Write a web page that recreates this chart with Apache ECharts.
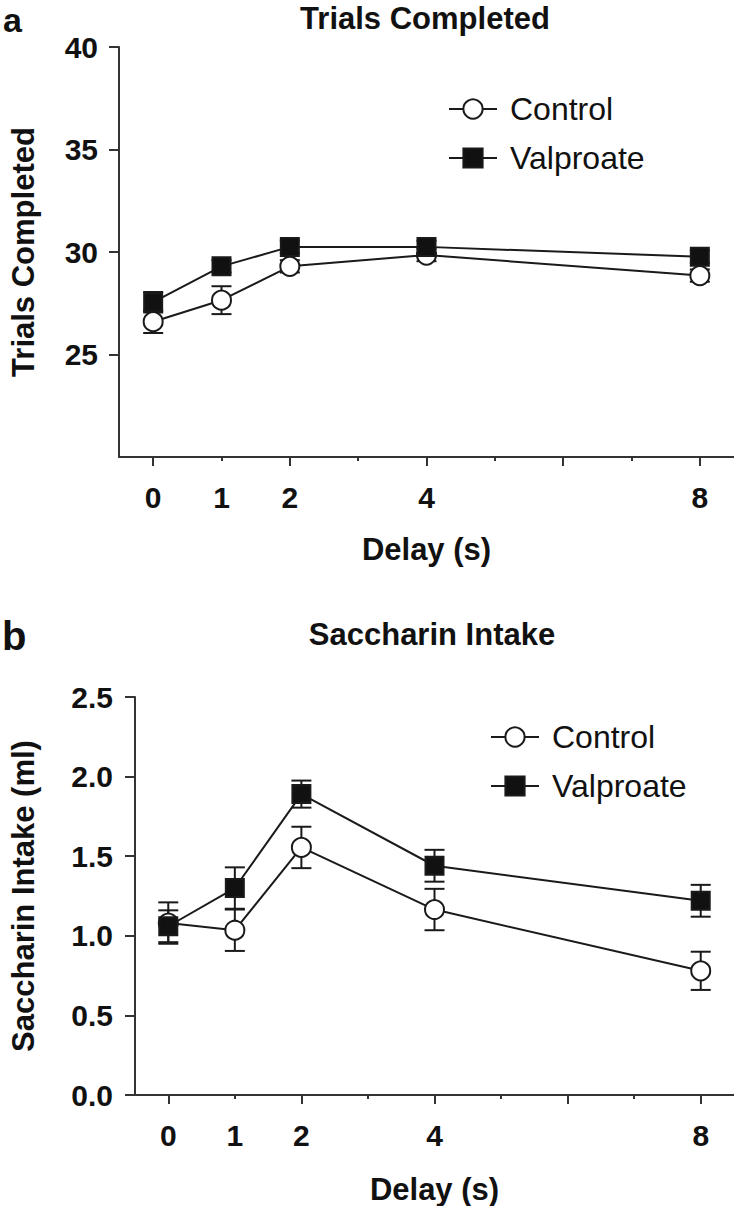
<!DOCTYPE html>
<html><head><meta charset="utf-8">
<script src="https://cdn.jsdelivr.net/npm/echarts@6/dist/echarts.min.js"></script>
<style>html,body{margin:0;padding:0;background:#fff}#chart{width:734px;height:1206px}</style>
</head><body><div id="chart"></div>
<script>
// ---- data ----
const delays = [0, 1, 2, 4, 8];
const xTickLabels = [0, 1, 2, 4, 8];
const xMajorTicks = [0, 2, 4, 6, 8];
const xMinorTicks = [1, 3, 5, 7];
const seriesNames = ['Control', 'Valproate'];

const trialsTicks = [25, 30, 35, 40];
const trialsControl = [26.6, 27.65, 29.3, 29.85, 28.85];
const trialsControlErr = [0.55, 0.68, 0.3, 0.3, 0.3];
const trialsValproate = [27.55, 29.3, 30.25, 30.25, 29.77];
const trialsValproateErr = [0.5, 0.3, 0.3, 0.3, 0.3];

const intakeTicks = [0, 0.5, 1.0, 1.5, 2.0, 2.5];
const intakeControl = [1.08, 1.035, 1.555, 1.165, 0.78];
const intakeControlErr = [0.13, 0.13, 0.13, 0.13, 0.12];
const intakeValproate = [1.06, 1.30, 1.89, 1.44, 1.22];
const intakeValproateErr = [0.1, 0.13, 0.085, 0.1, 0.1];

// ---- styling ----
const FONT = "'Liberation Sans', Arial, Helvetica, sans-serif";
const INK = '#1a1a1a';
const AX = '#333';

function pairs(vals) { return delays.map((d, i) => [d, vals[i]]); }
function errs(vals, e) { return delays.map((d, i) => [d, vals[i] - e[i], vals[i] + e[i]]); }

function errorSeries(name, vals, e, gi) {
  return {
    type: 'custom', name: name + ' SEM', xAxisIndex: gi * 2, yAxisIndex: gi, z: 1,
    data: errs(vals, e),
    renderItem: function (params, api) {
      const x = api.value(0);
      const top = api.coord([x, api.value(2)]);
      const bot = api.coord([x, api.value(1)]);
      const hw = 10;
      const st = { stroke: INK, lineWidth: 2 };
      return { type: 'group', children: [
        { type: 'line', shape: { x1: top[0], y1: top[1], x2: bot[0], y2: bot[1] }, style: st },
        { type: 'line', shape: { x1: top[0] - hw, y1: top[1], x2: top[0] + hw, y2: top[1] }, style: st },
        { type: 'line', shape: { x1: bot[0] - hw, y1: bot[1], x2: bot[0] + hw, y2: bot[1] }, style: st }
      ]};
    }
  };
}
function lineSeries(name, vals, gi) {
  const isCtrl = name === 'Control';
  return {
    type: 'line', name: name, xAxisIndex: gi * 2, yAxisIndex: gi, z: 3,
    data: pairs(vals),
    symbol: isCtrl ? 'circle' : 'rect',
    symbolSize: isCtrl ? 19 : 18,
    lineStyle: { color: INK, width: 2 },
    itemStyle: { color: isCtrl ? '#fff' : '#111', borderColor: INK, borderWidth: 2 },
    emphasis: { disabled: true }
  };
}
function xAxes(gi) {
  const lab = { fontSize: 30, fontWeight: 'bold', fontFamily: FONT, color: '#111' };
  return [
    {
      type: 'value', gridIndex: gi, position: 'bottom', min: -0.5, max: 8.5,
      name: 'Delay (s)', nameLocation: 'middle', nameGap: gi === 0 ? 77 : 79,
      nameTextStyle: { fontSize: 31, fontWeight: 'bold', fontFamily: FONT, color: '#111' },
      axisLine: { onZero: false, lineStyle: { color: AX, width: 2 } },
      axisTick: { customValues: xMajorTicks, length: 9, lineStyle: { color: AX, width: 2 } },
      axisLabel: Object.assign({ customValues: xTickLabels, margin: 25 }, lab),
      splitLine: { show: false }
    },
    {
      type: 'value', gridIndex: gi, position: 'bottom', min: -0.5, max: 8.5,
      axisLine: { show: false, onZero: false },
      axisTick: { customValues: xMinorTicks, length: 4, lineStyle: { color: AX, width: 2 } },
      axisLabel: { show: false },
      splitLine: { show: false }
    }
  ];
}

const option = {
  animation: false,
  backgroundColor: '#fff',
  textStyle: { fontFamily: FONT },
  grid: [
    { left: 117, top: 47, width: 617, height: 410 },
    { left: 133, top: 697, width: 601, height: 398 }
  ],
  xAxis: xAxes(0).concat(xAxes(1)),
  yAxis: [
    {
      type: 'value', gridIndex: 0, min: 20, max: 40, interval: 5,
      name: 'Trials Completed', nameLocation: 'middle', nameGap: 80,
      nameTextStyle: { fontSize: 31, fontWeight: 'bold', fontFamily: FONT, color: '#111' },
      axisLine: { show: true, onZero: false, lineStyle: { color: AX, width: 2 } },
      axisTick: { show: true, customValues: trialsTicks, length: 10, lineStyle: { color: AX, width: 2 } },
      axisLabel: { customValues: trialsTicks, margin: 21, fontSize: 30, fontWeight: 'bold', fontFamily: FONT, color: '#111' },
      splitLine: { show: false }
    },
    {
      type: 'value', gridIndex: 1, min: 0, max: 2.5, interval: 0.5,
      name: 'Saccharin Intake (ml)', nameLocation: 'middle', nameGap: 96,
      nameTextStyle: { fontSize: 31, fontWeight: 'bold', fontFamily: FONT, color: '#111' },
      axisLine: { show: true, onZero: false, lineStyle: { color: AX, width: 2 } },
      axisTick: { show: true, customValues: intakeTicks, length: 10, lineStyle: { color: AX, width: 2 } },
      axisLabel: { customValues: intakeTicks, margin: 22, fontSize: 30, fontWeight: 'bold', fontFamily: FONT, color: '#111',
        formatter: v => v.toFixed(1) },
      splitLine: { show: false }
    }
  ],
  legend: [
    { orient: 'vertical', left: 443, top: 88, itemWidth: 48, itemHeight: 24, itemGap: 17, selectedMode: false,
      data: seriesNames, textStyle: { fontSize: 32, lineHeight: 32, fontFamily: FONT, color: '#111', padding: [0, 0, 0, 8] } },
    { orient: 'vertical', left: 485, top: 716, itemWidth: 48, itemHeight: 24, itemGap: 17, selectedMode: false,
      data: seriesNames, textStyle: { fontSize: 32, lineHeight: 32, fontFamily: FONT, color: '#111', padding: [0, 0, 0, 8] } }
  ],
  graphic: [
    { type: 'text', x: 3, y: 3, style: { text: 'a', font: 'bold 34px ' + FONT, fill: '#111', textAlign: 'left', align: 'left', textVerticalAlign: 'top', verticalAlign: 'top' } },
    { type: 'text', x: 425, y: 18, style: { text: 'Trials Completed', font: 'bold 31px ' + FONT, fill: '#111', textAlign: 'center', align: 'center', textVerticalAlign: 'middle', verticalAlign: 'middle' } },
    { type: 'text', x: 2, y: 636, style: { text: 'b', font: 'bold 40px ' + FONT, fill: '#111', textAlign: 'left', align: 'left', textVerticalAlign: 'middle', verticalAlign: 'middle' } },
    { type: 'text', x: 432, y: 634, style: { text: 'Saccharin Intake', font: 'bold 31px ' + FONT, fill: '#111', textAlign: 'center', align: 'center', textVerticalAlign: 'middle', verticalAlign: 'middle' } }
  ],
  series: [
    errorSeries('Control', trialsControl, trialsControlErr, 0),
    errorSeries('Valproate', trialsValproate, trialsValproateErr, 0),
    lineSeries('Control', trialsControl, 0),
    lineSeries('Valproate', trialsValproate, 0),
    errorSeries('Control', intakeControl, intakeControlErr, 1),
    errorSeries('Valproate', intakeValproate, intakeValproateErr, 1),
    lineSeries('Control', intakeControl, 1),
    lineSeries('Valproate', intakeValproate, 1)
  ]
};

const chart = echarts.init(document.getElementById('chart'), null, { renderer: 'svg' });
chart.setOption(option);
</script>
</body></html>
